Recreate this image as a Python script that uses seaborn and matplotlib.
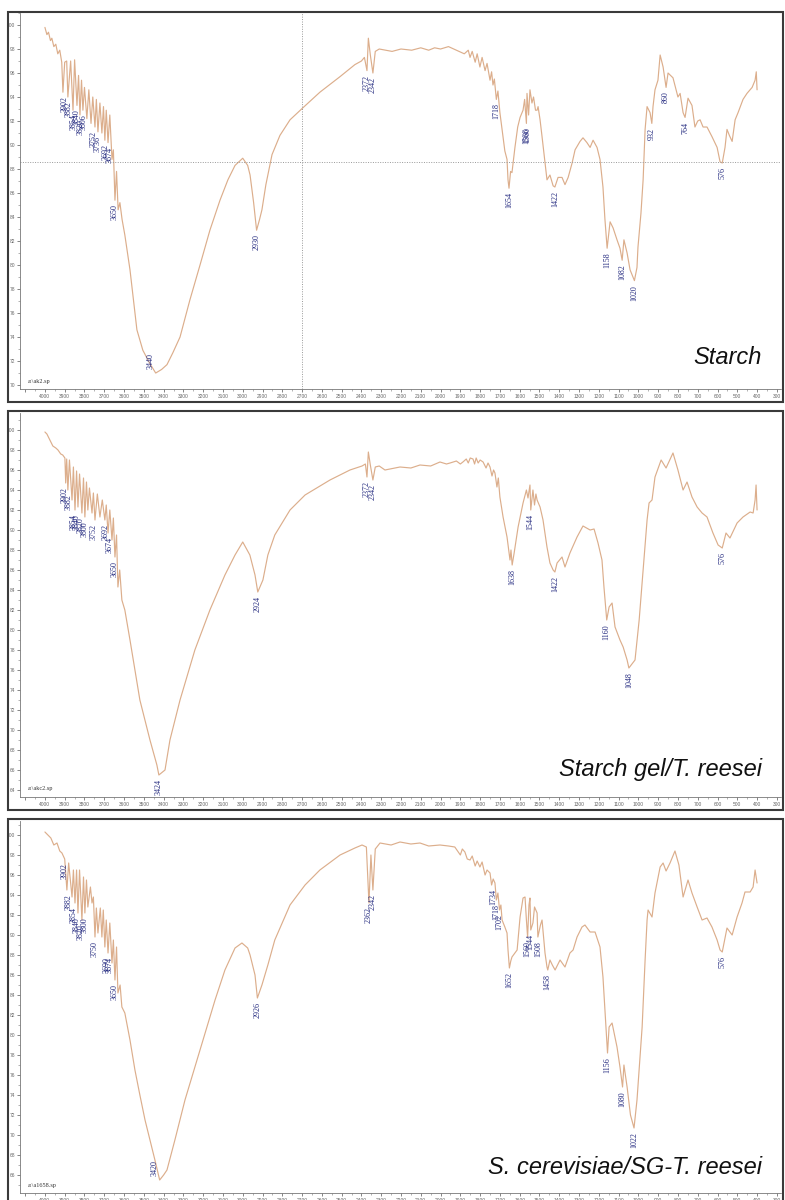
import numpy as np
import pandas as pd
import matplotlib
matplotlib.use("Agg")
import matplotlib.pyplot as plt
from matplotlib.patches import Rectangle
from matplotlib.ticker import MultipleLocator, FuncFormatter
import seaborn as sns

# ---------------- data (wavenumber cm-1, transmittance %) ----------------
starch_wn = [4000, 3990, 3982, 3972, 3965, 3955, 3945, 3935, 3925, 3915, 3909, 3900, 3890, 3884, 3870,
             3858, 3850, 3838, 3830, 3823, 3815, 3808, 3800, 3788, 3778, 3767, 3758, 3747, 3740, 3732,
             3722, 3712, 3704, 3697, 3690, 3681, 3672, 3661, 3654, 3646, 3638, 3630, 3621, 3610, 3596,
             3570, 3535, 3505, 3470, 3440, 3410, 3383, 3353, 3317, 3267, 3216, 3166, 3115, 3075, 3039,
             3000, 2975, 2963, 2945, 2930, 2915, 2903, 2883, 2852, 2812, 2761, 2696, 2610, 2508, 2433,
             2400, 2385, 2372, 2365, 2355, 2342, 2330, 2310, 2245, 2200, 2146, 2100, 2060, 2030, 2000,
             1960, 1920, 1880, 1860, 1851, 1840, 1825, 1815, 1801, 1790, 1775, 1765, 1750, 1742, 1735,
             1728, 1718, 1710, 1700, 1689, 1675, 1664, 1659, 1654, 1646, 1639, 1624, 1610, 1598, 1583,
             1575, 1566, 1563, 1555, 1548, 1538, 1530, 1520, 1512, 1507, 1497, 1487, 1472, 1462, 1447,
             1431, 1422, 1406, 1386, 1371, 1355, 1335, 1320, 1295, 1280, 1260, 1244, 1229, 1209, 1194,
             1179, 1169, 1158, 1143, 1128, 1108, 1093, 1082, 1073, 1057, 1042, 1020, 1007, 1002, 987,
             976, 966, 956, 941, 932, 926, 916, 901, 890, 875, 860, 850, 825, 800, 789,
             774, 764, 749, 729, 714, 700, 688, 673, 653, 628, 602, 587, 576, 562, 552,
             540, 526, 511, 496, 471, 451, 425, 410, 404, 400]
starch_t = [99.8, 99.2, 99.4, 98.7, 98.9, 98.2, 98.4, 97.6, 97.9, 96.9, 94.4, 96.9, 97.0, 94.0, 97.0,
            92.9, 97.1, 93.3, 95.8, 92.5, 95.4, 92.9, 94.8, 92.2, 94.6, 91.8, 94.0, 91.5, 93.8, 91.1,
            93.5, 91.0, 93.2, 90.4, 92.9, 90.2, 92.5, 88.8, 89.6, 85.4, 87.8, 84.6, 85.2, 83.8, 82.5,
            79.6, 74.6, 72.9, 71.8, 71.0, 71.3, 71.7, 72.7, 74.0, 77.1, 80.0, 82.9, 85.4, 87.1, 88.3,
            88.9, 88.3, 87.5, 85.2, 82.9, 83.8, 84.6, 86.7, 89.2, 90.8, 92.1, 93.1, 94.4, 95.7, 96.7,
            97.0, 97.3, 96.2, 98.9, 97.5, 96.0, 97.8, 98.0, 97.8, 98.0, 97.9, 98.1, 97.9, 98.1, 98.0,
            98.2, 97.9, 97.6, 97.9, 97.3, 97.8, 96.9, 97.6, 96.5, 97.3, 96.2, 96.8, 95.4, 96.1, 95.0,
            95.5, 93.8, 94.5, 92.7, 91.3, 89.5, 88.8, 87.1, 86.4, 87.8, 87.7, 89.8, 91.5, 92.3, 92.9,
            93.8, 91.8, 94.3, 92.5, 94.6, 93.5, 94.0, 92.9, 92.9, 93.2, 92.1, 90.7, 88.5, 87.1, 87.5,
            86.6, 86.5, 87.3, 87.3, 86.7, 87.3, 88.5, 89.6, 90.3, 90.6, 90.2, 89.8, 90.4, 89.8, 88.8,
            86.5, 83.8, 81.4, 83.6, 83.1, 82.1, 81.4, 80.4, 82.1, 81.0, 79.6, 78.7, 79.8, 81.5, 84.3,
            87.1, 91.3, 93.2, 92.7, 91.8, 93.2, 94.6, 95.4, 97.5, 96.5, 94.8, 96.0, 95.6, 94.0, 94.3,
            92.7, 92.3, 93.9, 93.3, 91.5, 92.0, 92.1, 91.5, 91.5, 90.7, 89.8, 88.6, 88.5, 89.8, 91.3,
            90.8, 90.3, 92.1, 92.7, 93.8, 94.3, 94.8, 95.4, 96.1, 94.6]
starch_peaks = ["3902", "3882", "3854", "3840", "3820", "3806", "3752", "3736", "3692", "3674", "3650",
                "3440", "2930", "2372", "2342", "1718", "1654", "1566", "1560", "1422", "1158", "1082",
                "1020", "932", "860", "764", "576"]

gel_wn = [4000, 3990, 3975, 3960, 3945, 3934, 3920, 3910, 3899, 3895, 3890, 3884, 3876, 3863, 3856,
          3848, 3840, 3833, 3825, 3813, 3805, 3798, 3790, 3783, 3775, 3762, 3755, 3747, 3735, 3722,
          3710, 3697, 3690, 3681, 3672, 3661, 3654, 3646, 3638, 3631, 3622, 3611, 3596, 3570, 3520,
          3469, 3434, 3424, 3393, 3368, 3317, 3242, 3166, 3090, 3039, 3000, 2964, 2938, 2924, 2898,
          2873, 2838, 2761, 2685, 2559, 2458, 2397, 2380, 2372, 2365, 2355, 2342, 2330, 2310, 2281,
          2205, 2150, 2104, 2050, 2003, 1970, 1952, 1920, 1900, 1887, 1870, 1860, 1850, 1836, 1828,
          1820, 1810, 1800, 1785, 1770, 1760, 1750, 1740, 1732, 1725, 1715, 1708, 1700, 1684, 1664,
          1649, 1644, 1638, 1628, 1608, 1583, 1566, 1558, 1548, 1544, 1533, 1525, 1518, 1512, 1497,
          1482, 1462, 1447, 1431, 1422, 1411, 1386, 1371, 1346, 1310, 1280, 1244, 1224, 1204, 1184,
          1174, 1160, 1148, 1133, 1118, 1093, 1077, 1057, 1048, 1017, 996, 976, 956, 946, 931,
          916, 885, 860, 825, 800, 774, 754, 729, 703, 678, 653, 623, 597, 576, 557,
          537, 501, 471, 435, 420, 410, 405, 400]
gel_t = [99.8, 99.6, 99.0, 98.4, 98.2, 98.0, 97.6, 97.5, 97.2, 94.7, 97.1, 94.0, 97.0, 93.0, 96.3,
         92.0, 95.9, 92.3, 95.6, 91.7, 95.2, 91.3, 94.8, 92.0, 94.2, 91.7, 93.7, 91.0, 93.6, 91.3,
         93.0, 91.0, 92.5, 89.7, 92.0, 89.0, 91.2, 87.3, 89.5, 84.3, 86.0, 83.0, 82.0, 79.0, 73.0,
         69.0, 66.5, 65.5, 66.0, 69.0, 73.0, 78.0, 82.0, 85.5, 87.5, 88.8, 87.5, 85.5, 83.8, 85.0,
         87.5, 89.5, 92.0, 93.5, 95.0, 96.0, 96.4, 96.6, 95.3, 97.8, 96.5, 95.0, 96.3, 96.4, 96.0,
         96.3, 96.2, 96.5, 96.4, 96.8, 96.6, 96.7, 96.9, 96.6, 96.8, 97.1, 96.7, 97.2, 97.1, 96.6,
         97.2, 96.7, 97.0, 96.8, 96.2, 96.7, 96.3, 95.4, 96.0, 95.7, 94.3, 95.2, 93.3, 91.3, 89.3,
         87.0, 88.0, 86.5, 87.7, 90.3, 92.7, 94.0, 93.2, 94.5, 92.0, 94.0, 92.5, 93.6, 93.0, 92.3,
         91.0, 88.3, 86.7, 86.0, 85.8, 86.7, 87.3, 86.3, 87.7, 89.3, 90.4, 90.0, 90.1, 88.7, 87.0,
         84.3, 81.0, 82.3, 82.7, 80.3, 79.0, 78.3, 77.0, 76.2, 77.0, 81.0, 86.0, 91.0, 92.7, 93.0,
         95.3, 97.0, 96.2, 97.7, 96.0, 94.0, 94.8, 93.3, 92.3, 91.7, 91.3, 89.7, 88.5, 88.2, 89.7,
         89.2, 90.7, 91.3, 91.8, 91.7, 93.0, 94.5, 92.0]
gel_peaks = ["3902", "3882", "3854", "3840", "3820", "3800", "3752", "3692", "3674", "3650", "3424",
             "2924", "2372", "2342", "1638", "1544", "1422", "1160", "1048", "576"]

yeast_wn = [4000, 3970, 3955, 3939, 3925, 3914, 3900, 3889, 3880, 3863, 3856, 3848, 3840, 3833, 3825,
            3813, 3805, 3798, 3790, 3783, 3770, 3762, 3755, 3747, 3740, 3732, 3720, 3712, 3705, 3697,
            3690, 3681, 3672, 3661, 3654, 3646, 3638, 3631, 3620, 3611, 3596, 3570, 3545, 3520, 3494,
            3469, 3444, 3420, 3400, 3383, 3343, 3292, 3216, 3140, 3090, 3039, 3004, 2975, 2963, 2938,
            2926, 2903, 2873, 2838, 2761, 2685, 2610, 2508, 2433, 2397, 2375, 2362, 2352, 2342, 2330,
            2306, 2250, 2205, 2150, 2104, 2060, 2003, 1960, 1928, 1900, 1890, 1877, 1865, 1851, 1840,
            1825, 1815, 1801, 1790, 1775, 1765, 1750, 1742, 1734, 1725, 1718, 1710, 1702, 1695, 1689,
            1675, 1664, 1659, 1652, 1645, 1639, 1613, 1598, 1583, 1573, 1566, 1560, 1553, 1548, 1544,
            1533, 1525, 1512, 1508, 1495, 1487, 1472, 1462, 1458, 1447, 1435, 1421, 1396, 1371, 1346,
            1330, 1310, 1285, 1270, 1244, 1219, 1194, 1179, 1169, 1156, 1148, 1133, 1108, 1093, 1080,
            1073, 1057, 1040, 1022, 1007, 981, 966, 956, 951, 931, 916, 890, 875, 860, 840,
            815, 795, 774, 749, 729, 703, 678, 653, 628, 602, 587, 576, 552, 526, 501,
            476, 461, 435, 420, 410, 400]
yeast_t = [100.3, 99.7, 99.0, 99.2, 98.4, 98.2, 97.6, 94.5, 97.2, 93.8, 96.5, 93.2, 96.5, 92.2, 96.5,
           91.5, 95.8, 92.2, 95.5, 92.8, 94.8, 93.2, 93.8, 89.8, 92.7, 90.2, 92.7, 89.8, 92.5, 88.8,
           91.5, 88.2, 91.2, 87.2, 89.5, 85.5, 88.8, 84.2, 85.0, 82.8, 82.2, 79.5, 76.5, 74.0, 71.5,
           69.5, 67.5, 65.5, 66.0, 66.5, 69.5, 73.5, 78.5, 83.5, 86.5, 88.7, 89.2, 88.7, 88.0, 86.0,
           83.7, 85.0, 87.0, 89.5, 93.0, 95.0, 96.5, 98.0, 98.7, 99.0, 98.8, 93.2, 98.0, 94.5, 98.6,
           99.2, 99.0, 99.3, 99.1, 99.2, 98.9, 99.0, 98.9, 98.8, 98.0, 98.6, 98.3, 97.6, 97.5, 97.9,
           96.9, 97.4, 96.8, 97.3, 96.0, 96.5, 96.2, 95.0, 95.6, 95.2, 93.5, 94.2, 92.5, 93.0, 91.5,
           90.8, 90.2, 88.5, 86.7, 87.4, 87.8, 88.5, 91.8, 93.7, 93.8, 91.5, 89.8, 93.0, 93.7, 90.5,
           91.2, 92.8, 92.2, 89.8, 91.0, 91.5, 88.2, 86.8, 86.5, 87.5, 87.0, 86.5, 87.5, 86.8, 88.2,
           88.5, 89.8, 90.8, 91.0, 90.3, 90.3, 88.8, 85.8, 82.5, 78.2, 80.8, 81.2, 78.8, 76.8, 74.8,
           77.0, 74.8, 72.0, 70.7, 73.5, 80.8, 87.5, 91.5, 92.5, 91.8, 94.2, 96.8, 97.2, 96.4, 97.2,
           98.4, 97.0, 93.8, 95.5, 94.2, 92.8, 91.5, 91.7, 90.8, 89.5, 88.5, 88.3, 90.7, 90.0, 91.8,
           93.2, 94.3, 94.3, 94.8, 96.5, 95.2]
yeast_peaks = ["3902", "3882", "3854", "3840", "3820", "3800", "3750", "3690", "3674", "3650", "3420",
               "2926", "2362", "2342", "1734", "1718", "1702", "1652", "1560", "1544", "1508", "1458",
               "1156", "1080", "1022", "576"]

names = ["Starch", "Starch gel/T. reesei", "S. cerevisiae/SG-T. reesei"]
files = ["a:\\ak2.sp", "a:\\akc2.sp", "a:\\a1658.sp"]

# ---------------- styling ----------------
sns.set_theme(style="white")
plt.rcParams['font.family'] = ['Liberation Sans', 'DejaVu Sans']

W, H = 785, 1200
LINE = "#dcae8c"
LAB = "#23297f"
fig = plt.figure(figsize=(W / 100, H / 100), dpi=100)

layout = [
    dict(frame=(12, 402), ax=(13, 389), ylim=(69.67, 101.0), name_base=364, file_y=383),
    dict(frame=(411, 810), ax=(413, 797), ylim=(63.3, 101.7), name_base=776, file_y=790),
    dict(frame=(819, 1210), ax=(821, 1193), ylim=(64.2, 101.4), name_base=1174, file_y=1187),
]
series = [(starch_wn, starch_t, starch_peaks), (gel_wn, gel_t, gel_peaks), (yeast_wn, yeast_t, yeast_peaks)]

AX_L, AX_R = 20, 781
for i, (lay, (wn, tr, peaks)) in enumerate(zip(layout, series)):
    top, bot = lay["ax"]
    ax = fig.add_axes([AX_L / W, 1 - bot / H, (AX_R - AX_L) / W, (bot - top) / H])
    df = pd.DataFrame({"wn": wn, "T": tr})
    sns.lineplot(data=df, x="wn", y="T", ax=ax, sort=False, estimator=None,
                 color=LINE, linewidth=0.85)
    ax.set_xlim(4126, 279)
    ax.set_ylim(*lay["ylim"])
    ax.set_xlabel("")
    ax.set_ylabel("")
    ax.set_facecolor("white")
    ax.xaxis.set_major_locator(MultipleLocator(100))
    ax.xaxis.set_minor_locator(MultipleLocator(50))
    ax.xaxis.set_major_formatter(FuncFormatter(lambda v, p: "" if v > 4000 else f"{v:.0f}"))
    ax.yaxis.set_major_locator(MultipleLocator(2))
    ax.yaxis.set_minor_locator(MultipleLocator(1))
    ax.yaxis.set_major_formatter(FuncFormatter(lambda v, p: f"{v:.0f}"))
    ax.tick_params(axis="both", which="major", direction="out", length=2.5, width=0.5,
                   color="#555555", labelsize=3.5, labelcolor="#666666", pad=1)
    ax.tick_params(axis="both", which="minor", direction="out", length=1.2, width=0.4, color="#777777")
    ax.tick_params(axis="x", which="both", bottom=True)
    ax.tick_params(axis="y", which="both", left=True)
    for s in ("top", "right"):
        ax.spines[s].set_visible(False)
    for s in ("left", "bottom"):
        ax.spines[s].set_color("#777777")
        ax.spines[s].set_linewidth(0.6)
        ax.spines[s].set_linestyle((0, (1, 1)))

    if i == 0:
        ax.axvline(2700, color="#999999", lw=0.7, ls=(0, (1, 1.5)))
        ax.axhline(88.58, color="#999999", lw=0.7, ls=(0, (1, 1.5)))

    wn_a = np.asarray(wn, dtype=float)
    tr_a = np.asarray(tr, dtype=float)
    y0, y1 = lay["ylim"]
    units_per_px = (y1 - y0) / (bot - top)
    for p in peaks:
        w = float(p)
        m = np.abs(wn_a - w) <= 10
        y = tr_a[m].min() if m.any() else np.interp(w, wn_a[::-1], tr_a[::-1])
        if y - 20 * units_per_px < y0:
            ax.annotate(p, (w, y), xytext=(-3.5, 3), textcoords="offset points", rotation=90,
                        ha="center", va="bottom", fontsize=5.8, family="Liberation Serif", color=LAB)
        else:
            ax.annotate(p, (w, y), xytext=(0, -3), textcoords="offset points", rotation=90,
                        ha="center", va="top", fontsize=5.8, family="Liberation Serif", color=LAB)

    ft, fb = lay["frame"]
    fig.patches.append(Rectangle((8 / W, 1 - fb / H), 775 / W, (fb - ft) / H,
                                 transform=fig.transFigure, fill=False, ec="#3a3a3a", lw=1.5))
    fig.text(762 / W, 1 - lay["name_base"] / H, names[i], ha="right", va="baseline",
             style="italic", fontsize=17, family=["Liberation Sans", "DejaVu Sans"], color="#111111")
    fig.text(28 / W, 1 - lay["file_y"] / H, files[i], ha="left", va="baseline",
             fontsize=4.5, family=["Liberation Serif", "DejaVu Serif"], color="#333333")

fig.savefig("out.png", dpi=100, facecolor="white")
